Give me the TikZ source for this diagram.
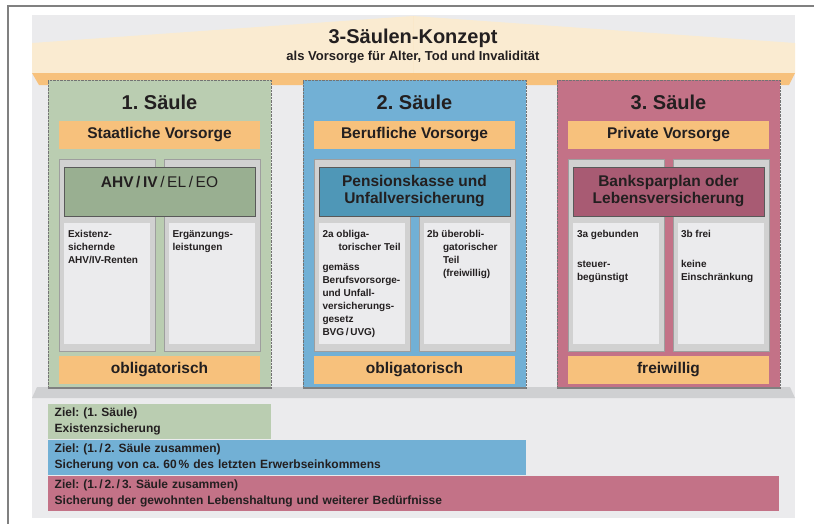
\documentclass[tikz,border=0pt]{standalone}
\usepackage{fontspec}
\setmainfont{Liberation Sans}
\usetikzlibrary{positioning}
\frenchspacing
\definecolor{ink}{HTML}{231F20}
\definecolor{flaeche}{HTML}{EBEBED}
\definecolor{dach}{HTML}{FAEBD1}
\definecolor{band}{HTML}{F7C17C}
\definecolor{sockel}{HTML}{CFD0D2}
\definecolor{gruen}{HTML}{BACDB1}
\definecolor{gruendk}{HTML}{99AF91}
\definecolor{blau}{HTML}{72B0D5}
\definecolor{blaudk}{HTML}{4F97B7}
\definecolor{rosa}{HTML}{C37287}
\definecolor{rosadk}{HTML}{A85B73}
\tikzset{
	saeule/.style={draw=black!55, densely dotted, inner sep=0pt, minimum width=223pt, minimum height=308pt},
	fach/.style={draw=black!38, fill=black!18, line width=.8pt, inner sep=0pt, minimum width=96pt, minimum height=192pt},
	kopf/.style={draw=black!65, line width=.8pt, inner sep=0pt, minimum width=191pt, minimum height=49pt},
	feld/.style={fill=flaeche, inner sep=0pt, minimum width=86pt, minimum height=121pt},
	schild/.style={fill=band, inner sep=0pt, minimum width=201pt, minimum height=28pt, font=\fontsize{15.5}{18}\selectfont\bfseries},
	nummer/.style={inner sep=0pt, font=\fontsize{20}{24}\selectfont\bfseries},
	kopftext/.style={inner sep=0pt, align=center, font=\fontsize{15.5}{17}\selectfont\bfseries},
	klein/.style={inner sep=0pt, align=left, font=\fontsize{10}{13}\selectfont\bfseries},
	ziel/.style={anchor=west, text width=#1, inner xsep=6.5pt, inner ysep=0pt, minimum height=35pt, align=left, font=\fontsize{12}{15.5}\selectfont\bfseries}
}
\begin{document}
\begin{tikzpicture}[x=1pt, y=-1pt, every node/.append style={text=ink}]
	\useasboundingbox (0,0) rectangle (814,523);
	\clip (0,0) rectangle (814,523);
	\draw[black!50, line width=1.5pt] (8,6) rectangle (840,545);
	\fill[flaeche] (32,15) rectangle (795,518);
	\fill[dach] (32,43) -- (413,16) -- (795,43) -- (795,73) -- (32,73) -- cycle;
	\draw[dach!92!band, line width=1pt] (413,16) -- (413,73);
	\fill[band] (32,73) -- (795,73) -- (789,85) -- (39,85) -- cycle;
	\node[nummer] (konzept) at (413,38) {3-Säulen-Konzept};
	\node[inner sep=0pt, font=\fontsize{13}{15}\selectfont\bfseries] (zweck) at (413,57) {als Vorsorge für Alter, Tod und Invalidität};
	\fill[sockel] (37,387) -- (790,387) -- (795,398) -- (32,398) -- cycle;
	\foreach \X/\C/\K/\A/\B [count=\Z] in {48/gruen/gruendk/Staatliche Vorsorge/obligatorisch,
		303/blau/blaudk/Berufliche Vorsorge/obligatorisch, 557/rosa/rosadk/Private Vorsorge/freiwillig}
	{
		\node[saeule, fill=\C] (s\Z) at (\X+111.5,234) {};
		\draw[black!50, line width=2pt] (s\Z.south west) -- (s\Z.south east);
		\node[nummer] (n\Z) at (\X+111.5,102) {\Z. Säule};
		\node[schild] (o\Z) at (\X+111.5,135) {\A};
		\node[fach] (fl\Z) at (\X+59,255) {};
		\node[fach] (fr\Z) at (\X+164,255) {};
		\node[kopf, fill=\K] (k\Z) at (\X+111.5,191.5) {};
		\node[feld] (l\Z) at (\X+59,283.5) {};
		\node[feld] (r\Z) at (\X+164,283.5) {};
		\node[schild] (u\Z) at (\X+111.5,370) {\B};
	}
	\node[kopftext, below=9pt of k1.north] {AHV\,/\,IV\,\mdseries/\,EL\,/\,EO};
	\node[kopftext] at (k2) {Pensionskasse und\\Unfallversicherung};
	\node[kopftext] at (k3) {Banksparplan oder\\Lebensversicherung};
	\node[klein, below right=7.5pt and 4pt of l1.north west] {Existenz-\\sichernde\\AHV/IV-Renten};
	\node[klein, below right=7.5pt and 3.5pt of r1.north west] {Ergänzungs-\\leistungen};
	\node[klein, below right=7.5pt and 3.5pt of l2.north west] {2a obliga-\\\hspace*{16pt}torischer Teil\\[7pt]gemäss\\Berufsvorsorge-\\und Unfall-\\versicherungs-\\gesetz\\BVG\,/\,UVG)};
	\node[klein, below right=7.5pt and 3pt of r2.north west] {2b überobli-\\\hspace*{16pt}gatorischer\\\hspace*{16pt}Teil\\\hspace*{16pt}(freiwillig)};
	\node[klein, below right=7.5pt and 4pt of l3.north west] {3a gebunden\\[17pt]steuer-\\begünstigt};
	\node[klein, below right=7.5pt and 3pt of r3.north west] {3b frei\\[17pt]keine\\Einschränkung};
	\node[ziel=210pt, fill=gruen] (ziel1) at (48,421.5) {Ziel: (1. Säule)\\Existenzsicherung};
	\node[ziel=465pt, fill=blau] (ziel2) at (48,457.5) {Ziel: (1.\,/\,2. Säule zusammen)\\Sicherung von ca. 60\,\% des letzten Erwerbseinkommens};
	\node[ziel=718pt, fill=rosa] (ziel3) at (48,493.5) {Ziel: (1.\,/\,2.\,/\,3. Säule zusammen)\\Sicherung der gewohnten Lebenshaltung und weiterer Bedürfnisse};
\end{tikzpicture}
\end{document}
